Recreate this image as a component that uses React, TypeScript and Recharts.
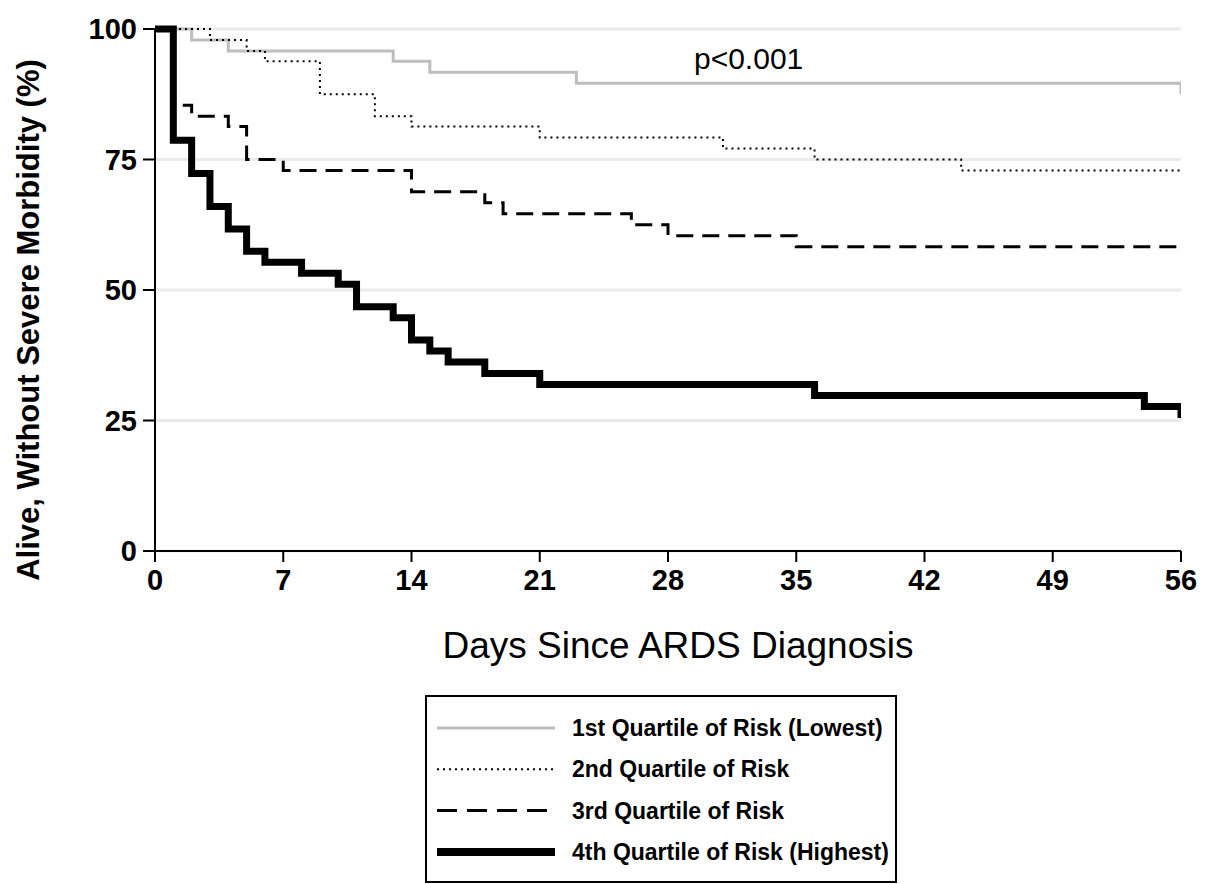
import { CartesianGrid, Legend, Line, LineChart, ReferenceDot, XAxis, YAxis } from 'recharts'

// Kaplan-Meier steps (day of drop -> % alive without severe morbidity)
const q1Days = [0, 2, 4, 13, 15, 23, 56]
const q1Surv = [100, 97.9, 95.8, 93.8, 91.7, 89.6, 87.5]

const q2Days = [0, 3, 5, 6, 9, 12, 14, 21, 31, 36, 44, 56]
const q2Surv = [100, 97.9, 95.8, 93.8, 87.5, 83.3, 81.3, 79.2, 77.1, 75.0, 72.9, 72.9]

const q3Days = [0, 1, 2, 4, 5, 7, 14, 18, 19, 26, 28, 35, 56]
const q3Surv = [100, 85.4, 83.3, 81.3, 75.0, 72.9, 68.8, 66.7, 64.6, 62.5, 60.4, 58.3, 58.3]

const q4Days = [0, 1, 2, 3, 4, 5, 6, 8, 10, 11, 13, 14, 15, 16, 18, 21, 36, 54, 56]
const q4Surv = [100, 78.7, 72.3, 66.0, 61.7, 57.4, 55.3, 53.2, 51.1, 46.8, 44.7, 40.4, 38.3, 36.2, 34.0, 31.9, 29.8, 27.7, 25.5]

const seriesNames = [
  '1st Quartile of Risk (Lowest)',
  '2nd Quartile of Risk',
  '3rd Quartile of Risk',
  '4th Quartile of Risk (Highest)',
]

const xTicks = [0, 7, 14, 21, 28, 35, 42, 49, 56]
const yTicks = [0, 25, 50, 75, 100]

const pValueText = 'p<0.001'
const pValueDay = 32.4
const pValueY = 94.4

const toPoints = (days: number[], surv: number[]) =>
  days.map((d, i) => ({ day: d, value: surv[i] }))

const FONT = '"Liberation Sans", Arial, Helvetica, sans-serif'

const styles = [
  { stroke: '#bdbdbd', width: 3, dash: undefined },
  { stroke: '#000', width: 2, dash: '2 4' },
  { stroke: '#000', width: 3, dash: '17 9' },
  { stroke: '#000', width: 7, dash: undefined },
]

const seriesData = [
  toPoints(q1Days, q1Surv),
  toPoints(q2Days, q2Surv),
  toPoints(q3Days, q3Surv),
  toPoints(q4Days, q4Surv),
]

const LegendBox = () => (
  <svg width={472} height={188}>
    <rect x={1} y={1} width={470} height={186} fill='#fff' stroke='#000' strokeWidth={2} />
    {seriesNames.map((name, i) => {
      const y = 33 + i * 41.3
      return (
        <g key={name}>
          <line
            x1={12}
            x2={130}
            y1={y}
            y2={y}
            stroke={styles[i].stroke}
            strokeWidth={i === 3 ? 8 : styles[i].width}
            strokeDasharray={i === 2 ? '20 10' : styles[i].dash}
          />
          <text
            x={147}
            y={y}
            dominantBaseline='central'
            fontFamily={FONT}
            fontWeight='bold'
            fontSize={23}
            fill='#000'
          >
            {name}
          </text>
        </g>
      )
    })}
  </svg>
)

const YTitle = (props: any) => {
  const vb = props.viewBox
  const cx = vb.x + 20
  const cy = vb.y + vb.height / 2 + 30
  return (
    <text
      x={cx}
      y={cy}
      transform={`rotate(-90, ${cx}, ${cy})`}
      textAnchor='middle'
      dominantBaseline='central'
      fontFamily={FONT}
      fontWeight='bold'
      fontSize={31}
      fill='#000'
    >
      Alive, Without Severe Morbidity (%)
    </text>
  )
}

const XTitle = (props: any) => {
  const vb = props.viewBox
  return (
    <text
      x={vb.x + vb.width / 2 + 10}
      y={vb.y + 107}
      textAnchor='middle'
      fontFamily={FONT}
      fontSize={37}
      fill='#000'
    >
      Days Since ARDS Diagnosis
    </text>
  )
}

export default function App() {
  return (
    <div style={{ width: 1199, height: 876, background: '#fff' }}>
      <LineChart width={1199} height={876} margin={{ top: 21, right: 26, left: 0, bottom: 227 }}>
        <CartesianGrid vertical={false} stroke='#ebebeb' strokeWidth={3} />
        <XAxis
          type='number'
          dataKey='day'
          domain={[0, 56]}
          ticks={xTicks}
          allowDataOverflow
          height={106}
          stroke='#000'
          strokeWidth={2}
          tickSize={11}
          tickMargin={7}
          tick={{ fill: '#000', fontSize: 29, fontWeight: 'bold', fontFamily: FONT }}
          label={{ content: XTitle }}
        />
        <YAxis
          type='number'
          domain={[0, 100]}
          ticks={yTicks}
          width={147}
          stroke='#000'
          strokeWidth={2}
          tickSize={12}
          tickMargin={6}
          tick={{ fill: '#000', fontSize: 29, fontWeight: 'bold', fontFamily: FONT }}
          label={{ content: YTitle }}
        />
        {seriesData.map((pts, i) => (
          <Line
            key={seriesNames[i]}
            name={seriesNames[i]}
            data={pts}
            dataKey='value'
            type='stepAfter'
            stroke={styles[i].stroke}
            strokeWidth={styles[i].width}
            strokeDasharray={styles[i].dash}
            dot={false}
            activeDot={false}
            isAnimationActive={false}
          />
        ))}
        <ReferenceDot
          x={pValueDay}
          y={pValueY}
          r={0}
          fill='none'
          stroke='none'
          label={{ value: pValueText, position: 'center', fontSize: 30, fill: '#000', fontFamily: FONT }}
        />
        <Legend
          layout='vertical'
          align='center'
          verticalAlign='middle'
          content={() => <LegendBox />}
          wrapperStyle={{ left: 417, top: 687, width: 472, height: 188 }}
        />
      </LineChart>
    </div>
  )
}
